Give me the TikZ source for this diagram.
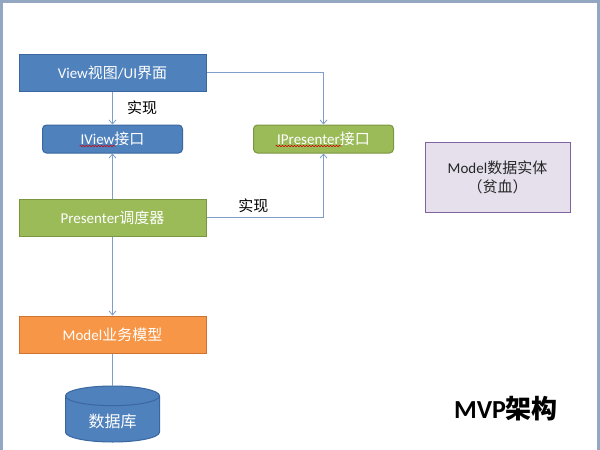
\documentclass[tikz,border=0pt]{standalone}
\usepackage{fontspec}
\setmainfont{Carlito}
\newfontfamily\cjk{Noto Sans CJK SC}
\usetikzlibrary{arrows.meta,positioning,shapes.geometric,calc,decorations.pathmorphing}
\definecolor{viewblue}{HTML}{4F81BD}
\definecolor{viewline}{HTML}{3A67A0}
\definecolor{presgreen}{HTML}{9BBB59}
\definecolor{presline}{HTML}{7A9640}
\definecolor{modelorange}{HTML}{F79646}
\definecolor{modelline}{HTML}{CF7430}
\definecolor{entityfill}{HTML}{E5E0EC}
\definecolor{entityline}{HTML}{8064A2}
\definecolor{linkblue}{HTML}{7F9DC9}
\definecolor{framegray}{HTML}{93A7C2}

\begin{document}
\begin{tikzpicture}[x=1pt,y=-1pt,>={Straight Barb[length=4pt,width=7pt]},font=\fontsize{15}{17}\selectfont]
	\tikzstyle{box}=[rectangle, line width=1pt, text=white, minimum width=187pt, minimum height=37pt, inner sep=2pt]
	\tikzstyle{view box}=[box, fill=viewblue, draw=viewline]
	\tikzstyle{presenter box}=[box, fill=presgreen, draw=presline]
	\tikzstyle{model box}=[box, fill=modelorange, draw=modelline]
	\tikzstyle{iface}=[box, rounded corners=4pt, minimum width=140pt, minimum height=28pt]
	\tikzstyle{entity box}=[rectangle, line width=1pt, fill=entityfill, draw=entityline, text=black!85, minimum width=145pt, minimum height=70pt, align=center, font=\fontsize{15}{19}\selectfont]
	\tikzstyle{db}=[cylinder, shape border rotate=90, aspect=0.36, line width=1pt, fill=viewblue, draw=viewline, text=white, minimum height=56pt, minimum width=94pt, font=\fontsize{16}{18}\selectfont]
	\tikzstyle{link}=[draw=linkblue, line width=0.8pt]
	\tikzstyle{frame}=[draw=framegray, line width=3pt]
	\tikzstyle{squiggle}=[draw=red!80!black, line width=0.5pt, decorate, decoration={snake, amplitude=0.7pt, segment length=3pt}]
	\tikzstyle{title}=[font=\fontsize{26}{30}\selectfont\bfseries]

	\useasboundingbox (0,0) rectangle (600,450);
	\draw [frame] (1.5,455) |- (598.5,1.5) -- (598.5,455);

	\node [view box] (view) at (112.5,72.5) {View{\cjk 视图}/UI{\cjk 界面}};
	\node [iface, fill=viewblue, draw=viewline] (iview) [below=33pt of view] {IView{\cjk 接口}};
	\node [iface, fill=presgreen, draw=presline] (ipresenter) [right=70pt of iview] {IPresenter{\cjk 接口}};
	\node [presenter box] (presenter) [below=45pt of iview] {Presenter{\cjk 调度器}};
	\node [model box] (model) [below=79pt of presenter] {Model{\cjk 业务模型}};
	\node [db] (data) [below=32pt of model] {\cjk 数据库};
	\node [entity box] (entity) at (497.5,177) {Model{\cjk 数据实体}\\{\cjk （贫血）}};

	% spell-check marks
	\draw [squiggle] ($(iview.center)+(-33,7)$) -- ++(36,0);
	\draw [squiggle] ($(ipresenter.center)+(-48,7)$) -- ++(66,0);

	\draw [link,->] (view) -- node [right=11pt] (impl view) {\cjk 实现} (iview);
	\draw [link,->] (view.east) -| (ipresenter.north);
	\draw [link,->] (presenter) -- (iview);
	\draw [link,->] (presenter.east) -| node [pos=0.2, above=1pt] (impl presenter) {\cjk 实现} (ipresenter.south);
	\draw [link,->] (presenter) -- (model);
	\draw [link] (model) -- (data);

	\node [title] (mvp) at (506,409) {MVP{\cjk 架构}};
\end{tikzpicture}
\end{document}
